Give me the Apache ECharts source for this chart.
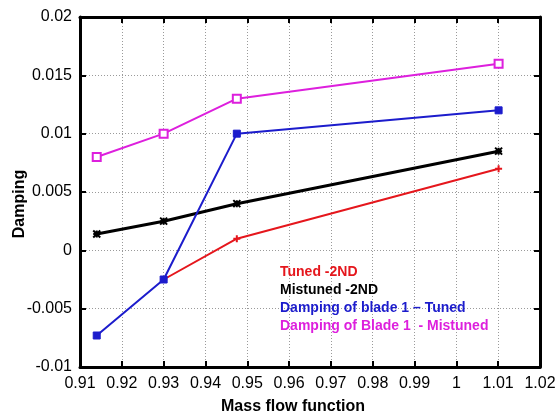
<!DOCTYPE html>
<html>
<head>
<meta charset="utf-8">
<script src="https://cdn.jsdelivr.net/npm/echarts@6/dist/echarts.min.js"></script>
<style>
  html, body { margin: 0; padding: 0; background: #fff; }
  #chart { width: 560px; height: 414px; }
</style>
</head>
<body>
<div id="chart"></div>
<script>
// Mass flow function operating points
const massFlow = [0.914, 0.93, 0.9475, 1.0101];

// Damping values per series (red series has no point at the lowest flow)
const tuned2ND = [null, -0.0025, 0.001, 0.007];
const mistuned2ND = [0.0014, 0.0025, 0.004, 0.0085];
const blade1Tuned = [-0.0073, -0.0025, 0.01, 0.012];
const blade1Mistuned = [0.008, 0.01, 0.013, 0.016];

const seriesNames = [
  'Tuned -2ND',
  'Mistuned -2ND',
  'Damping of blade 1 \u2013 Tuned',
  'Damping of Blade 1  - Mistuned'
];
const seriesColors = ['#e5161c', '#000000', '#1c1ccc', '#dd1fdd'];

const xTicks = { min: 0.91, max: 1.02, interval: 0.01 };
const yTicks = { min: -0.01, max: 0.02, interval: 0.005 };

const FONT = '"Liberation Sans", Arial, Helvetica, sans-serif';

function pairs(values) {
  const out = [];
  values.forEach((v, i) => { if (v !== null) out.push([massFlow[i], v]); });
  return out;
}

const gridLine = { show: true, lineStyle: { color: '#9a9a9a', type: [1, 2], width: 1 } };
const frameLine = { show: true, onZero: false, lineStyle: { color: '#000', width: 3 } };
const innerTick = { show: true, inside: true, length: 6, lineStyle: { color: '#000', width: 2 } };

const plusPath = 'path://M5,0L5,10M0,5L10,5';
const starPath = 'path://M0,0L10,10M10,0L0,10M5,0L5,10M0,5L10,5';

const chart = echarts.init(document.getElementById('chart'), null, { renderer: 'canvas' });

chart.setOption({
  backgroundColor: '#ffffff',
  animation: false,
  textStyle: { fontFamily: FONT },
  grid: { left: 80, right: 20, top: 17, bottom: 47, containLabel: false, outerBoundsMode: 'none' },
  legend: {
    show: true,
    orient: 'vertical',
    left: 270,
    top: 260,
    icon: 'none',
    itemWidth: 0,
    itemHeight: 14,
    itemGap: 4,
    selectedMode: false,
    textStyle: { fontSize: 14, fontWeight: 'bold', fontFamily: FONT },
    data: seriesNames.map((n, i) => ({ name: n, textStyle: { color: seriesColors[i] } }))
  },
  xAxis: [
    {
      type: 'value',
      position: 'bottom',
      min: xTicks.min, max: xTicks.max, interval: xTicks.interval,
      name: 'Mass flow function',
      nameLocation: 'middle',
      nameGap: 32,
      nameMoveOverlap: false,
      nameTextStyle: { fontSize: 16, fontWeight: 'bold', color: '#000', fontFamily: FONT, padding: [0, 34, 0, 0] },
      axisLine: frameLine,
      axisTick: innerTick,
      axisLabel: { color: '#000', fontSize: 16, margin: 9, fontFamily: FONT },
      splitLine: gridLine
    },
    {
      type: 'value',
      position: 'top',
      min: xTicks.min, max: xTicks.max, interval: xTicks.interval,
      axisLine: frameLine,
      axisTick: innerTick,
      axisLabel: { show: false },
      splitLine: { show: false }
    }
  ],
  yAxis: [
    {
      type: 'value',
      position: 'left',
      min: yTicks.min, max: yTicks.max, interval: yTicks.interval,
      name: 'Damping',
      nameLocation: 'middle',
      nameGap: 52,
      nameMoveOverlap: false,
      nameTextStyle: { fontSize: 16, fontWeight: 'bold', color: '#000', fontFamily: FONT, padding: [0, 24, 0, 0] },
      axisLine: frameLine,
      axisTick: innerTick,
      axisLabel: { color: '#000', fontSize: 16, margin: 8, fontFamily: FONT },
      splitLine: gridLine
    },
    {
      type: 'value',
      position: 'right',
      min: yTicks.min, max: yTicks.max, interval: yTicks.interval,
      axisLine: frameLine,
      axisTick: innerTick,
      axisLabel: { show: false },
      splitLine: { show: false }
    }
  ],
  series: [
    {
      name: seriesNames[0], type: 'line', data: pairs(tuned2ND),
      symbol: plusPath, symbolSize: 7,
      lineStyle: { color: seriesColors[0], width: 2 },
      itemStyle: { color: seriesColors[0], borderColor: seriesColors[0], borderWidth: 2 },
      z: 2
    },
    {
      name: seriesNames[1], type: 'line', data: pairs(mistuned2ND),
      symbol: starPath, symbolSize: 7,
      lineStyle: { color: seriesColors[1], width: 3 },
      itemStyle: { color: seriesColors[1], borderColor: seriesColors[1], borderWidth: 2 },
      z: 3
    },
    {
      name: seriesNames[2], type: 'line', data: pairs(blade1Tuned),
      symbol: 'rect', symbolSize: 7,
      lineStyle: { color: seriesColors[2], width: 2 },
      itemStyle: { color: seriesColors[2], borderColor: seriesColors[2], borderWidth: 1 },
      z: 4
    },
    {
      name: seriesNames[3], type: 'line', data: pairs(blade1Mistuned),
      symbol: 'emptyRect', symbolSize: 8,
      lineStyle: { color: seriesColors[3], width: 2 },
      itemStyle: { color: seriesColors[3], borderColor: seriesColors[3], borderWidth: 1.5 },
      z: 5
    }
  ]
});
</script>
</body>
</html>
